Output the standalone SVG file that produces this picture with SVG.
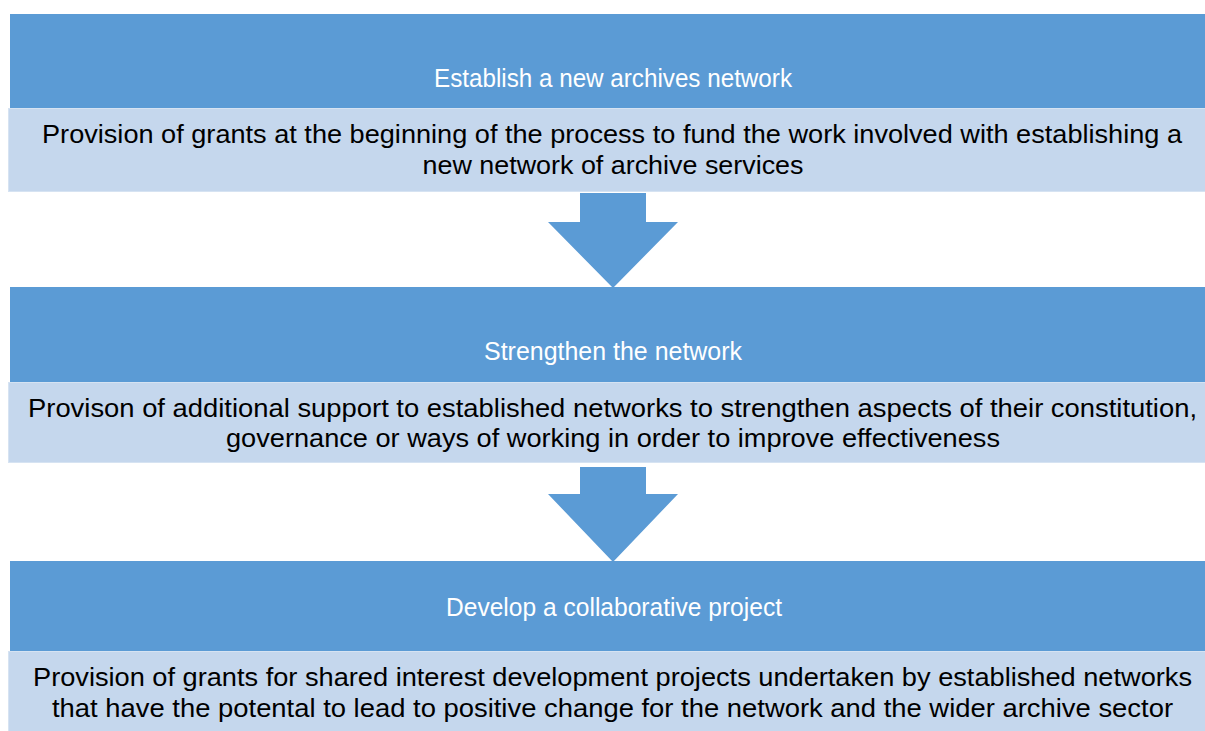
<svg xmlns="http://www.w3.org/2000/svg" width="1205" height="731" viewBox="0 0 1205 731">
  <style>
    .hdr { fill: #5B9BD5; }
    .sub { fill: #C5D7ED; stroke: #D6E3F2; stroke-width: 1; }
    .arrow { fill: #5B9BD5; }
    .ht { font-family: "Liberation Sans", Arial, sans-serif; font-size: 25px; fill: #FFFFFF; text-anchor: middle; }
    .bt { font-family: "Liberation Sans", Arial, sans-serif; font-size: 26px; fill: #000000; text-anchor: middle; }
  </style>
  <rect width="1205" height="731" fill="#FFFFFF"/>

  <g id="node-establish">
    <rect class="hdr" x="10" y="14" width="1195" height="94"/>
    <text class="ht" x="613" y="87" textLength="358" lengthAdjust="spacingAndGlyphs">Establish a new archives network</text>
    <rect class="sub" x="8.5" y="108.5" width="1197" height="83"/>
    <text class="bt" x="612" y="143" textLength="1140" lengthAdjust="spacingAndGlyphs">Provision of grants at the beginning of the process to fund the work involved with establishing a</text>
    <text class="bt" x="613" y="174" textLength="381" lengthAdjust="spacingAndGlyphs">new network of archive services</text>
  </g>

  <g id="node-strengthen">
    <rect class="hdr" x="10" y="287" width="1195" height="95"/>
    <text class="ht" x="613" y="360" textLength="258" lengthAdjust="spacingAndGlyphs">Strengthen the network</text>
    <rect class="sub" x="8.5" y="382.5" width="1197" height="80"/>
    <text class="bt" x="612.5" y="417" textLength="1169" lengthAdjust="spacingAndGlyphs">Provison of additional support to established networks to strengthen aspects of their constitution,</text>
    <text class="bt" x="613" y="447" textLength="774" lengthAdjust="spacingAndGlyphs">governance or ways of working in order to improve effectiveness</text>
  </g>

  <g id="node-develop">
    <rect class="hdr" x="10" y="561" width="1195" height="90"/>
    <text class="ht" x="614" y="616" textLength="336" lengthAdjust="spacingAndGlyphs">Develop a collaborative project</text>
    <rect class="sub" x="8.5" y="651.5" width="1197" height="82"/>
    <text class="bt" x="612.5" y="686" textLength="1159" lengthAdjust="spacingAndGlyphs">Provision of grants for shared interest development projects undertaken by established networks</text>
    <text class="bt" x="612.5" y="717" textLength="1121" lengthAdjust="spacingAndGlyphs">that have the potental to lead to positive change for the network and the wider archive sector</text>
  </g>

  <g id="connectors">
    <polygon class="arrow" points="580,193 646,193 646,222 678,222 613,288 548,222 580,222"/>
    <polygon class="arrow" points="580,467 646,467 646,494 678,494 613,562 548,494 580,494"/>
  </g>
</svg>
